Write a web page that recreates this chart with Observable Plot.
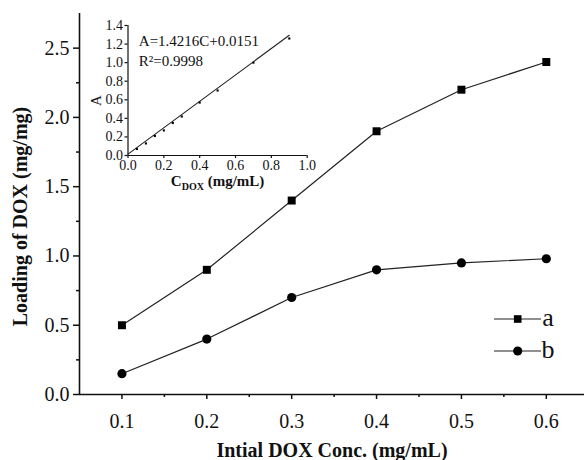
<!DOCTYPE html>
<html><head><meta charset="utf-8">
<script src="https://cdn.jsdelivr.net/npm/d3@7"></script>
<script src="https://cdn.jsdelivr.net/npm/@observablehq/plot@0.6"></script>
<style>
body{margin:0;background:#fff;}
#wrap{position:relative;width:584px;height:460px;overflow:hidden;background:#fff;}
#wrap svg{position:absolute;left:0;top:0;}
#wrap svg text{font-family:'Liberation Serif','Times New Roman',serif;}
</style></head><body><div id="wrap"></div>
<script>
// ---- main chart data ----
const conc = [0.1, 0.2, 0.3, 0.4, 0.5, 0.6];
const loadingA = [0.50, 0.90, 1.40, 1.90, 2.20, 2.40];
const loadingB = [0.15, 0.40, 0.70, 0.90, 0.95, 0.98];
const seriesNames = ["a", "b"];
const xTicks = [0.1, 0.2, 0.3, 0.4, 0.5, 0.6];
const xMinorTicks = [0.15, 0.25, 0.35, 0.45, 0.55];
const yTicks = [0.0, 0.5, 1.0, 1.5, 2.0, 2.5];
const yMinorTicks = [0.25, 0.75, 1.25, 1.75, 2.25];
const xDomain = [0.05, 0.645];
const yDomain = [0, 2.75];
const xTitle = "Intial DOX Conc. (mg/mL)";
const yTitle = "Loading of DOX (mg/mg)";

// ---- inset (calibration) data ----
const calC = [0.05, 0.10, 0.15, 0.20, 0.25, 0.30, 0.40, 0.50, 0.70, 0.90];
const calA = [0.07, 0.13, 0.21, 0.27, 0.35, 0.42, 0.57, 0.70, 1.00, 1.26];
const fitSlope = 1.4216, fitIntercept = 0.0151;
const fitC = [0, 0.9];
const insetXTicks = [0.0, 0.2, 0.4, 0.6, 0.8, 1.0];
const insetYTicks = [0.0, 0.2, 0.4, 0.6, 0.8, 1.0, 1.2, 1.4];
const insetXDomain = [0, 1.0];
const insetYDomain = [0, 1.4];
const eqText = "A=1.4216C+0.0151";
const r2Text = "R\u00b2=0.9998";
const insetXTitle = "C_DOX (mg/mL)";
const insetYTitle = "A";

const rowsA = conc.map((c, i) => ({c, v: loadingA[i]}));
const rowsB = conc.map((c, i) => ({c, v: loadingB[i]}));
const calRows = calC.map((c, i) => ({c, a: calA[i]}));
const fitRows = fitC.map(c => ({c, a: fitSlope * c + fitIntercept}));

const font = "'Liberation Serif','Times New Roman',serif";
const ink = "#111";
const fmt = d3.format(".1f");

const main = Plot.plot({
  width: 584, height: 460,
  marginLeft: 79, marginRight: 0, marginTop: 13, marginBottom: 66,
  style: {fontFamily: font, fontSize: "20px", color: ink, background: "transparent", overflow: "visible"},
  x: {domain: xDomain},
  y: {domain: yDomain},
  marks: [
    Plot.axisX({ticks: xTicks, tickSize: 5, tickPadding: 14, tickFormat: fmt, label: null, strokeWidth: 1.5, fontSize: 20, fontFamily: font}),
    Plot.axisX({ticks: xMinorTicks, tickSize: 3, text: null, label: null, strokeWidth: 1.5}),
    Plot.axisY({ticks: yTicks, tickSize: 6, tickPadding: 4, tickFormat: fmt, label: null, strokeWidth: 1.5, fontSize: 20, fontFamily: font}),
    Plot.axisY({ticks: yMinorTicks, tickSize: 3, text: null, label: null, strokeWidth: 1.5}),
    Plot.ruleY([yDomain[0]], {strokeWidth: 1.6, stroke: ink}),
    Plot.ruleX([xDomain[0]], {strokeWidth: 1.6, stroke: ink}),
    Plot.line(rowsA, {x: "c", y: "v", stroke: "#222", strokeWidth: 1.2}),
    Plot.line(rowsB, {x: "c", y: "v", stroke: "#222", strokeWidth: 1.2}),
    Plot.dot(rowsA, {x: "c", y: "v", symbol: "square", r: 4.5, fill: "#000", stroke: null}),
    Plot.dot(rowsB, {x: "c", y: "v", symbol: "circle", r: 4.6, fill: "#000", stroke: null}),
    Plot.text([xTitle], {text: d => d, frameAnchor: "bottom", textAnchor: "middle", lineAnchor: "bottom", dy: 62, fontWeight: "bold", fontSize: 20, fontFamily: font, fill: ink}),
    Plot.text([yTitle], {text: d => d, frameAnchor: "left", textAnchor: "middle", lineAnchor: "middle", rotate: -90, dx: -59, dy: 12.5, fontWeight: "bold", fontSize: 20, fontFamily: font, fill: ink})
  ]
});

// legend
const lg = d3.select(main).append("g").attr("fill", "#000").attr("stroke", "#222");
const legendItems = seriesNames.map((name, i) => ({name, symbol: i === 0 ? "square" : "circle", row: i}));
legendItems.forEach(item => {
  const y = 319 + item.row * 32;
  const g = lg.append("g").attr("transform", `translate(494,${y})`);
  g.append("line").attr("x1", 0).attr("x2", 47).attr("y1", 0).attr("y2", 0).attr("stroke-width", 1.2);
  if (item.symbol === "square") g.append("rect").attr("x", 23.7 - 3.8).attr("y", -3.8).attr("width", 7.6).attr("height", 7.6).attr("stroke", "none");
  else g.append("circle").attr("cx", 23.7).attr("cy", 0).attr("r", 4.6).attr("stroke", "none");
  g.append("text").attr("x", 54).attr("y", 7).attr("stroke", "none").attr("fill", ink)
    .attr("font-family", font).attr("font-size", 26).text(item.name);
});

const inset = Plot.plot({
  width: 240, height: 200,
  marginLeft: 47.5, marginRight: 13.3, marginTop: 25, marginBottom: 45,
  style: {fontFamily: font, fontSize: "14px", color: ink, background: "transparent", overflow: "visible"},
  x: {domain: insetXDomain},
  y: {domain: insetYDomain},
  marks: [
    Plot.axisX({ticks: insetXTicks, tickSize: 3, tickPadding: 2, tickFormat: fmt, label: null, strokeWidth: 1.2, fontSize: 14, fontFamily: font}),
    Plot.axisY({ticks: insetYTicks, tickSize: 3, tickPadding: 2, tickFormat: fmt, label: null, strokeWidth: 1.2, fontSize: 14, fontFamily: font}),
    Plot.ruleY([insetYDomain[0]], {strokeWidth: 1.2, stroke: ink}),
    Plot.ruleX([insetXDomain[0]], {strokeWidth: 1.2, stroke: ink}),
    Plot.line(fitRows, {x: "c", y: "a", stroke: "#222", strokeWidth: 1.1}),
    Plot.dot(calRows, {x: "c", y: "a", symbol: "square", r: 1.2, fill: "#000", stroke: null}),
    Plot.text([eqText], {text: d => d, frameAnchor: "top-left", textAnchor: "start", lineAnchor: "bottom", dx: 10.8, dy: 20, fontSize: 15, fontFamily: font, fill: ink}),
    Plot.text([r2Text], {text: d => d, frameAnchor: "top-left", textAnchor: "start", lineAnchor: "bottom", dx: 10.8, dy: 40.5, fontSize: 15, fontFamily: font, fill: ink}),
    Plot.text([insetYTitle], {text: d => d, frameAnchor: "left", textAnchor: "middle", lineAnchor: "middle", rotate: -90, dx: -31.5, dy: 10, fontSize: 15, fontFamily: font, fill: ink}),
    Plot.text([insetXTitle], {text: d => d, frameAnchor: "bottom", textAnchor: "middle", lineAnchor: "bottom", dy: 30, fontWeight: "bold", fontSize: 15, fontFamily: font, fill: ink})
  ]
});
inset.style.left = "80px";
inset.style.top = "0px";

// subscript for C_DOX
d3.select(inset).selectAll("text").each(function() {
  if (this.textContent === insetXTitle) {
    const t = d3.select(this);
    t.text(null);
    const parts = insetXTitle.split("_");
    const sub = parts[1].split(" ");
    t.append("tspan").text(parts[0]);
    t.append("tspan").attr("font-size", 10).attr("dy", 4).text(sub[0]);
    t.append("tspan").attr("dy", -4).text(" " + sub.slice(1).join(" "));
  }
});

const wrap = document.getElementById("wrap");
wrap.appendChild(main);
wrap.appendChild(inset);
</script></body></html>
